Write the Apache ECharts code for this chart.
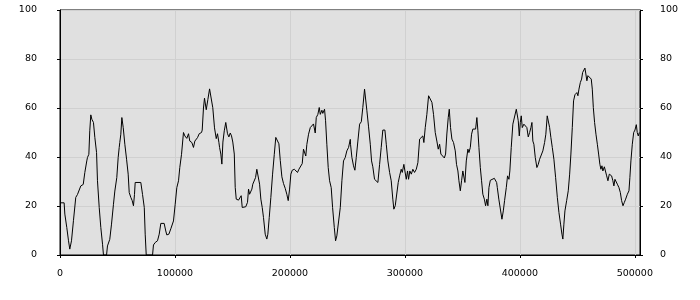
<!DOCTYPE html>
<html>
<head>
<meta charset="utf-8">
<script src="https://cdn.jsdelivr.net/npm/echarts@6/dist/echarts.min.js"></script>
<style>html,body{margin:0;padding:0;background:#fff}#c{width:700px;height:300px}</style>
</head>
<body>
<div id="c"></div>
<script>
var xValues = [0,3600,4200,5900,7400,8500,10000,11700,13700,15200,16700,18100,20200,21600,23300,23900,25100,25900,26800,27700,29100,30300,31800,32600,34100,35500,37000,37800,40500,41300,43300,44800,46500,47700,49400,50600,51500,52000,52900,53800,55000,56400,57900,59300,60200,61600,62800,63900,64800,65400,70300,71800,73300,74100,75000,80500,81300,82800,84800,86300,87700,90600,92000,92900,94700,96400,97900,98700,100200,101600,103100,104200,105700,107400,108600,110300,111800,112900,114700,116100,117300,119600,121100,123100,123700,124800,125700,127200,128600,130100,130900,131500,132900,134400,135900,137000,138200,138800,139900,140800,141700,142900,144200,145700,146900,148100,149200,150300,151600,152400,153300,155300,156800,157600,158500,159600,161600,163100,164000,164900,166000,166900,167700,169000,170100,171200,172700,173600,174700,175900,177000,178500,179900,180800,182000,183400,184900,186400,187700,189200,190400,191600,193000,194400,195900,197300,198500,199700,200800,202000,203800,205500,206600,207800,209500,210700,211800,212700,213800,214700,216200,217700,219100,220500,222000,222900,224300,225500,226400,227800,228600,230100,231000,232100,233300,234500,235900,237100,238600,239700,240800,242300,243800,245200,246600,248100,249500,251000,252500,252700,253900,255300,256500,257700,259100,260600,262100,263400,264900,265800,266900,268400,269900,271000,272100,273600,275100,276500,278000,279400,280800,282600,283800,285200,286700,288100,289500,290400,291600,293000,294200,295400,296800,297700,299100,300000,301200,302300,303200,304300,305600,306900,308400,309900,311300,312800,314200,315600,316500,317700,319100,320600,322100,323500,324900,326400,327800,329000,330200,331300,333000,334300,335400,336500,337700,338600,339700,340900,342300,343800,344900,346100,347000,348200,349300,350400,351300,352200,353400,354800,355700,356900,358000,359100,360600,361500,362600,363500,364400,365600,366700,367800,369100,370200,371300,372200,373100,374300,376000,377800,378600,379800,380400,381700,383000,384400,385600,386700,388200,389300,390500,391300,392500,393900,395400,396900,397800,398600,399500,400400,401200,402100,403500,405000,406100,407300,408500,409600,410500,411300,412200,413400,414800,416000,417200,418600,420000,421500,422600,423800,424700,425900,427000,428200,429600,431100,432600,434000,435400,436600,437400,438300,439200,440700,442100,443300,444400,445600,446700,447900,448700,449600,450500,451400,452600,453700,454600,455700,456600,457400,458300,459200,460700,462100,463000,463900,465000,466200,467400,468500,469600,470500,471400,472200,473500,474600,475500,476600,477800,478900,479800,480900,481800,482700,483900,484800,486200,487400,488500,489700,490900,492000,493500,494900,495700,496600,497800,499000,500100,501300,502100,503000,503900];
var yValues = [21.3,21.3,16.7,11.2,5.8,2.4,5.8,14,23.5,24.7,25.5,28.2,28.8,33.7,38.4,39.8,41.1,50.7,57.2,55.4,54.1,48,41.8,30.3,19.4,11.2,4.4,0,0,3.7,6.4,12.6,20.7,26.1,31.6,39.8,43.9,45.9,49.3,56.1,52,45.2,39.1,33,25.5,23.5,22.2,20.1,24.7,29.6,29.6,24.7,19.4,8.5,0,0,4.1,5.1,5.8,8.5,12.9,12.9,9.8,8.2,8.5,10.7,11.2,13.9,20.7,27.5,30.3,35.7,41.1,50,48.6,47.6,49.5,46.5,45.9,43.9,46.5,47.9,49.5,50,51,60,64,59.3,63.4,67.8,68.4,67.5,60.1,51.9,47.5,49.5,46,43.9,41.2,37.1,46.1,50.7,54.1,49.5,48.2,49.8,48.6,46.1,41.2,27.6,22.8,22.4,22.8,24.2,19.4,18.7,19.7,21.5,26.9,24.8,24.2,26.9,28.9,29.6,31.6,35,34.6,28.9,22.8,19.4,15.3,8.5,6.5,8.5,15.3,23.5,33,41.1,48,48.2,45.4,38.6,31.9,29.2,27.2,24.8,22.2,26.9,33,34.6,35,35.4,33.7,35,35.4,37.3,43.2,43.8,40.4,45.1,49.3,52,52.7,53.5,49.8,56.1,57.4,60.2,57.4,59.1,57.8,59.5,54.8,45.2,35.7,30.3,27.5,19.4,11.2,5.8,7.8,7.8,19.4,30.3,38.4,39.8,42.5,43.9,47.2,45.2,39.8,36.4,34.6,39.8,46.5,53.4,54.4,60.2,67.7,67.7,59.1,52.3,45.2,38.4,36,30.9,30.3,29.6,37,43.9,51,51,45.2,38.4,33.7,30.3,22.8,18.7,20.1,20.1,29.6,32.3,35,33.7,37,34.3,30.9,34.3,30.9,34.3,33,35,33.7,35,37.7,47.3,47.9,48.6,45.9,52,57.4,65,64.3,62.3,57.4,50,46.5,43.2,45.2,41.2,41.2,39.6,41.2,49.4,56.1,59.5,52,47.3,45.9,42.5,37,34.3,30.3,26.2,30.3,34.3,33.7,29.6,38.4,43.2,41.8,43.9,49.3,51.4,52,51.4,56.1,50.7,43.9,35.7,30.3,24.8,22.8,20.1,22.8,20.1,27.5,30.5,30.9,31.3,31.9,29.6,27.5,22.8,22.2,14.6,18,22.2,27.5,32.3,30.9,34.3,43.9,53.4,54.1,59.5,60.2,54.8,48.6,54.1,56.8,52,53.4,52.7,52,48.2,50,52,54.1,46.5,45.2,39.8,35.7,37,39.1,39.8,42.5,45.9,49.3,56.8,57.2,52,47.9,43.9,39.1,31.6,23.5,17.3,12.6,8.5,6.5,12.6,18,22.2,26.2,33,41.2,52,62.9,65.4,65,66.3,65,67.7,70.4,71.8,74.5,75.2,76.3,73.9,71.1,73.2,72.8,71.8,67.7,60.2,54.1,49.3,45.2,41.2,37,35,36.4,34.3,36,35.7,32.3,30.3,33,33.3,32.3,30.3,28.2,30.9,30.3,28.9,27.5,25.5,22.2,20.1,21.5,22.8,24.8,26.2,31.6,38.4,45.2,50,51,53.2,50,48.6,50];
var xTickValues = [0,100000,200000,300000,400000,500000];
var yTickValues = [0,20,40,60,80,100];

var chart = echarts.init(document.getElementById('c'), null, {renderer: 'canvas'});
var pts = xValues.map(function (x, i) { return [x, yValues[i]]; });
var labelFont = {fontFamily: 'DejaVu Sans', fontSize: 9.5, color: '#000'};
function plain(v) { return String(v); }
function yAxisCfg(pos) {
  return {
    type: 'value', position: pos, min: 0, max: 100, interval: 20,
    axisLine: {show: true, lineStyle: {color: '#000', width: 1}},
    axisTick: {show: true, length: 3, lineStyle: {color: '#000'}},
    axisLabel: Object.assign({margin: pos === 'left' ? 23 : 20, formatter: plain}, labelFont),
    splitLine: {show: pos === 'left', lineStyle: {color: '#d0d0d0', width: 1}}
  };
}
chart.setOption({
  animation: false,
  backgroundColor: '#fff',
  grid: {left: 60, right: 60, top: 10, bottom: 45, show: true, backgroundColor: '#e0e0e0', borderColor: '#000', borderWidth: 1},
  xAxis: {
    type: 'value', min: 0, max: 504500, interval: 100000,
    axisLine: {show: true, onZero: false, lineStyle: {color: '#000', width: 1}},
    axisTick: {show: true, length: 3, customValues: xTickValues, lineStyle: {color: '#000'}},
    axisLabel: Object.assign({margin: 14, customValues: xTickValues, formatter: plain}, labelFont),
    splitLine: {show: true, lineStyle: {color: '#d0d0d0', width: 1}}
  },
  yAxis: [yAxisCfg('left'), yAxisCfg('right')],
  series: [{
    type: 'line', data: pts, showSymbol: false, symbol: 'none',
    lineStyle: {color: '#000', width: 1}, clip: true
  }]
});
</script>
</body>
</html>
